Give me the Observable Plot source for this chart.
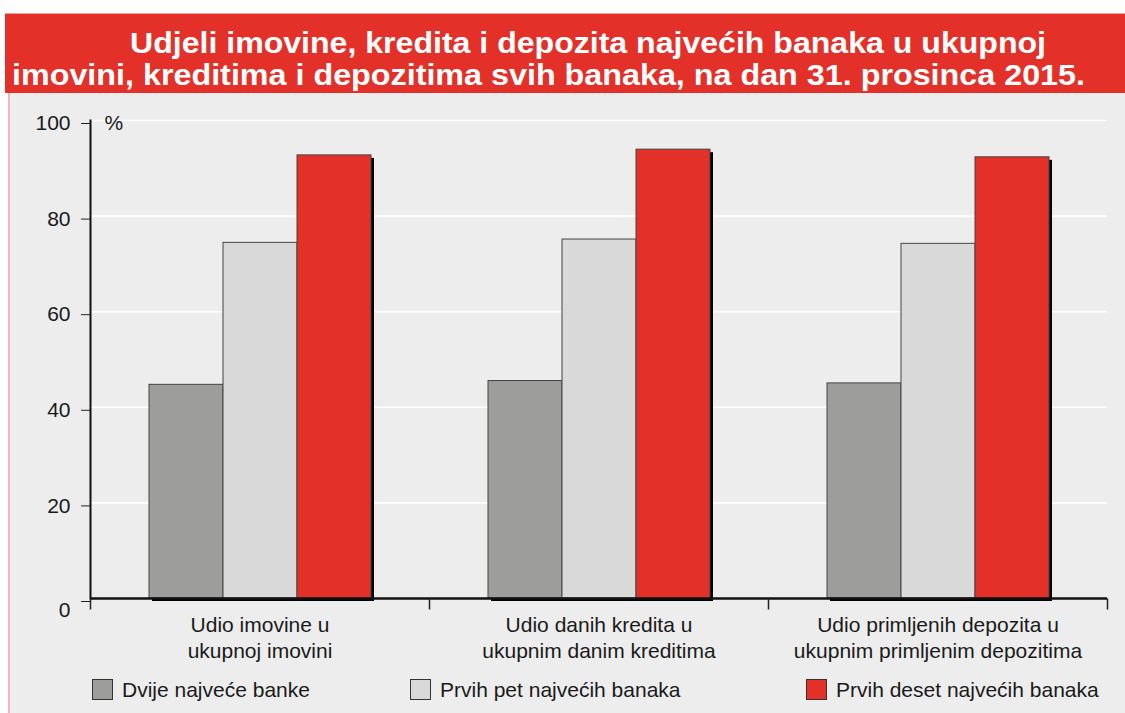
<!DOCTYPE html>
<html>
<head>
<meta charset="utf-8">
<script src="https://cdn.jsdelivr.net/npm/d3@7"></script>
<script src="https://cdn.jsdelivr.net/npm/@observablehq/plot@0.6"></script>
<style>
  html, body { margin: 0; padding: 0; background: #ffffff; }
  #wrap { position: relative; width: 1125px; height: 713px; overflow: hidden; font-family: "Liberation Sans", Arial, sans-serif; }
  #banner { position: absolute; left: 5px; top: 13px; width: 1120px; height: 80px; background: #e3312a; border-top: 1px solid #f0a0a0; box-sizing: border-box; }
  #panel { position: absolute; left: 8px; top: 93px; width: 1117px; height: 620px; background: #ededed; border-left: 2px solid #f5b8b8; box-sizing: border-box; }
  #chart { position: absolute; left: 0; top: 93px; }
  #legend { position: absolute; left: 0; top: 679px; width: 1125px; height: 24px; }
  .item { position: absolute; top: 0; display: flex; align-items: center; height: 21px; font-size: 21px; color: #1a1a1a; white-space: nowrap; }
  .sw { width: 19px; height: 19px; border: 1px solid #333; margin-right: 9px; box-sizing: content-box; }
</style>
</head>
<body>
<div id="wrap">
  <div id="banner"></div>
  <div id="panel"></div>
  <svg id="title" width="1125" height="93" style="position:absolute;left:0;top:0"></svg>
  <div id="chart"></div>
  <div id="legend"></div>
</div>
<script>
// ---- data ----
const titleLines = [
  "Udjeli imovine, kredita i depozita najvećih banaka u ukupnoj",
  "imovini, kreditima i depozitima svih banaka, na dan 31. prosinca 2015."
];
const categories = [
  "Udio imovine u\nukupnoj imovini",
  "Udio danih kredita u\nukupnim danim kreditima",
  "Udio primljenih depozita u\nukupnim primljenim depozitima"
];
const series = ["Dvije najveće banke", "Prvih pet najvećih banaka", "Prvih deset najvećih banaka"];
const twoLargest = [44.7, 45.5, 45.0];
const fiveLargest = [74.4, 75.1, 74.2];
const tenLargest = [92.7, 93.9, 92.3];
const yTicks = [0, 20, 40, 60, 80, 100];
const unitLabel = "%";
const colors = ["#9d9d9b", "#d9d9d9", "#e3312a"];

// ---- title ----
const tsvg = d3.select("#title");
const tl = [
  {x: 130, y: 53, w: 916},
  {x: 12, y: 85, w: 1073}
];
titleLines.forEach((t, i) => {
  tsvg.append("text")
    .attr("x", tl[i].x).attr("y", tl[i].y)
    .attr("textLength", tl[i].w).attr("lengthAdjust", "spacingAndGlyphs")
    .attr("fill", "#ffffff")
    .attr("font-family", "Liberation Sans, Arial, sans-serif")
    .attr("font-weight", "bold")
    .attr("font-size", 29)
    .text(t);
});

// ---- table ----
const table = [];
categories.forEach((c, i) => {
  [twoLargest, fiveLargest, tenLargest].forEach((arr, j) => {
    table.push({category: c, series: series[j], value: arr[i]});
  });
});

const tickSym = {draw(ctx) { ctx.moveTo(0, 0); ctx.lineTo(0, 11); }};

const chart = Plot.plot({
  width: 1125,
  height: 580,
  marginLeft: 90,
  marginRight: 18,
  marginTop: 27,
  marginBottom: 75,
  style: {background: "transparent", fontFamily: "Liberation Sans, Arial, sans-serif", color: "#1a1a1a"},
  fx: {domain: categories, padding: 0, axis: null},
  x: {domain: series, paddingInner: 0, paddingOuter: 0.77, axis: null},
  y: {domain: [0, 100], axis: null},
  color: {domain: series, range: colors},
  marks: [
    Plot.ruleY(yTicks.filter(d => d > 0), {stroke: "#ffffff", strokeWidth: 1.6}),
    Plot.barY(table, {fx: "category", x: "series", y: "value", fill: "#000", dx: 3, dy: 3}),
    Plot.barY(table, {fx: "category", x: "series", y: "value", fill: "series", stroke: "#444", strokeWidth: 1}),
    Plot.ruleY([0], {stroke: "#111", strokeWidth: 2.5}),
    Plot.frame({anchor: "left", fx: () => categories[0], stroke: "#111", strokeWidth: 2}),
    Plot.dot(categories, {fx: d => d, frameAnchor: "bottom-left", symbol: tickSym, stroke: "#222", strokeWidth: 1.5}),
    Plot.dot([categories[categories.length - 1]], {fx: d => d, frameAnchor: "bottom-right", symbol: tickSym, stroke: "#222", strokeWidth: 1.5}),
    Plot.axisY(yTicks, {anchor: "left", label: null, tickSize: 9, tickPadding: 11, fontSize: 21, dy: 3, text: d => d === 0 ? "" : String(d), stroke: "#222"}),
    Plot.axisY([0], {anchor: "left", label: null, tickSize: 0, tickPadding: 20, fontSize: 21, dy: 12, tickFormat: d => String(d)}),
    Plot.text([unitLabel], {fx: () => categories[0], y: () => 100, text: d => d, frameAnchor: "left", textAnchor: "start", dx: 14, dy: 3, fontSize: 21}),
    Plot.text(categories, {fx: d => d, text: d => d, frameAnchor: "bottom", lineAnchor: "top", dy: 15, fontSize: 21, lineHeight: 1.24})
  ]
});
document.getElementById("chart").appendChild(chart);

// ---- legend ----
const legendX = [92, 410, 806];
const leg = d3.select("#legend");
series.forEach((s, i) => {
  const it = leg.append("div").attr("class", "item").style("left", legendX[i] + "px");
  it.append("div").attr("class", "sw").style("background", colors[i]);
  it.append("span").text(s);
});
</script>
</body>
</html>
